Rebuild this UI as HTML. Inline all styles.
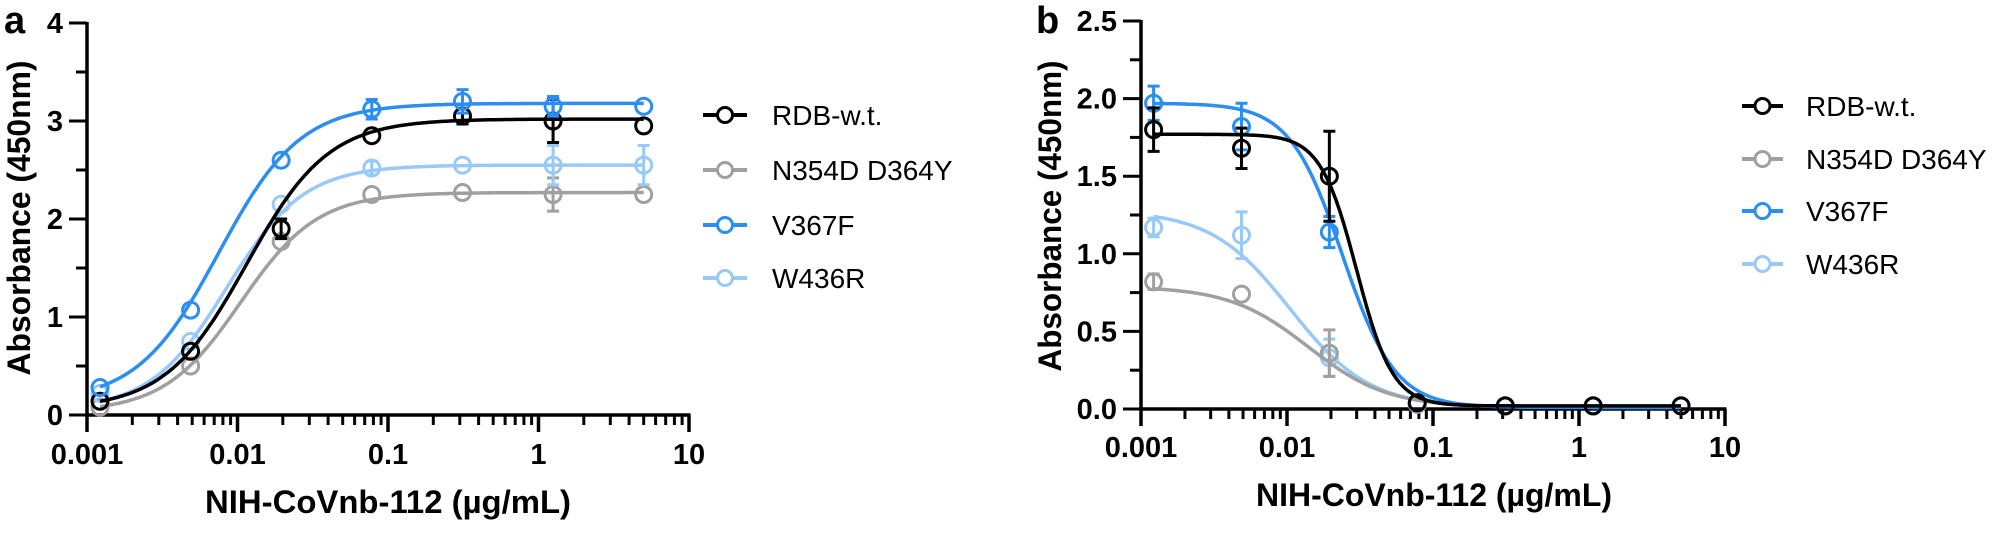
<!DOCTYPE html>
<html><head><meta charset="utf-8"><style>
html,body{margin:0;padding:0;background:#fff;}
svg{display:block;font-family:"Liberation Sans",sans-serif;}
</style></head><body>
<svg id="s" width="2013" height="536" viewBox="0 0 2013 536" xmlns="http://www.w3.org/2000/svg">
<text x="4" y="33" font-size="38" font-weight="bold">a</text>
<text x="1036" y="33" font-size="38" font-weight="bold">b</text>
<text transform="translate(30,218) rotate(-90)" text-anchor="middle" font-size="32" font-weight="bold" textLength="315" lengthAdjust="spacingAndGlyphs">Absorbance (450nm)</text>
<text transform="translate(1061,216) rotate(-90)" text-anchor="middle" font-size="32" font-weight="bold" textLength="311" lengthAdjust="spacingAndGlyphs">Absorbance (450nm)</text>
<text x="388" y="513" text-anchor="middle" font-size="32" font-weight="bold" textLength="366" lengthAdjust="spacingAndGlyphs">NIH-CoVnb-112 (µg/mL)</text>
<text x="1434" y="506" text-anchor="middle" font-size="32" font-weight="bold" textLength="356" lengthAdjust="spacingAndGlyphs">NIH-CoVnb-112 (µg/mL)</text>
<g id="g"></g>
</svg>
<script>
var g=document.getElementById('g'),h='';
var C={k:'#000000',g:'#a0a0a0',b:'#2b8ef0',l:'#99c9f7'};
var X=[0.00122,0.00488,0.0195,0.078,0.3125,1.25,5];
function panel(P){
 function px(v){return P.x0+P.dec*(Math.log10(v)+3);}
 function py(v){return P.y0-v*P.u;}
 // axes
 h+='<line x1="'+P.x0+'" y1="'+(py(P.ymax)-1)+'" x2="'+P.x0+'" y2="'+(P.y0+1.5)+'" stroke="#000" stroke-width="3.5"/>';
 h+='<line x1="'+(P.x0-1.5)+'" y1="'+P.y0+'" x2="'+(P.x0+4*P.dec+1.5)+'" y2="'+P.y0+'" stroke="#000" stroke-width="3.5"/>';
 for(var i=0;i<=P.ymax/P.minor+1e-9;i++){var v=i*P.minor,maj=Math.abs(v/P.major-Math.round(v/P.major))<1e-6;
  h+='<line x1="'+(P.x0-(maj?18:11))+'" y1="'+py(v)+'" x2="'+P.x0+'" y2="'+py(v)+'" stroke="#000" stroke-width="3"/>';
  if(maj)h+='<text x="'+(P.x0-24)+'" y="'+(py(v)+10)+'" text-anchor="end" font-size="29" font-weight="bold">'+(P.fmt?v.toFixed(1):v)+'</text>';}
 var labs=['0.001','0.01','0.1','1','10'];
 for(var d=0;d<=4;d++){var xx=P.x0+d*P.dec;
  h+='<line x1="'+xx+'" y1="'+P.y0+'" x2="'+xx+'" y2="'+(P.y0+17)+'" stroke="#000" stroke-width="3.5"/>';
  h+='<text x="'+xx+'" y="'+P.ly+'" text-anchor="middle" font-size="29" font-weight="bold">'+labs[d]+'</text>';
  if(d<4)for(var m=2;m<=9;m++){var mx=xx+P.dec*Math.log10(m);h+='<line x1="'+mx+'" y1="'+P.y0+'" x2="'+mx+'" y2="'+(P.y0+10)+'" stroke="#000" stroke-width="3"/>';}}
 P.s.forEach(function(S){
  var d='';for(var t=0;t<=300;t++){var lx=Math.log10(X[0])+t/300*(Math.log10(X[6])-Math.log10(X[0]));var x=Math.pow(10,lx);
   var y=S.bot+(S.top-S.bot)/(1+Math.pow(10,(Math.log10(S.ec)-lx)*S.hill*P.dir));
   d+=(t?'L':'M')+px(x).toFixed(1)+' '+py(y).toFixed(1);}
  h+='<path d="'+d+'" fill="none" stroke="'+C[S.c]+'" stroke-width="3.5"/>';
  S.pts.forEach(function(v,i){var cx=px(X[i]),cy=py(v),e=S.err[i]||0;
   if(e){h+='<path d="M'+cx+' '+(cy-e*P.u)+'V'+(cy+e*P.u)+'M'+(cx-6)+' '+(cy-e*P.u)+'H'+(cx+6)+'M'+(cx-6)+' '+(cy+e*P.u)+'H'+(cx+6)+'" stroke="'+C[S.c]+'" stroke-width="3" fill="none"/>';}
   h+='<circle cx="'+cx+'" cy="'+cy+'" r="8" fill="none" stroke="'+C[S.c]+'" stroke-width="3"/>';});
 });
 var names=['RDB-w.t.','N354D D364Y','V367F','W436R'],cs=['k','g','b','l'];
 for(var i=0;i<4;i++){var y=P.leg.y[i];
  h+='<line x1="'+P.leg.x1+'" y1="'+y+'" x2="'+P.leg.x2+'" y2="'+y+'" stroke="'+C[cs[i]]+'" stroke-width="4"/>';
  h+='<circle cx="'+((P.leg.x1+P.leg.x2)/2)+'" cy="'+y+'" r="7.5" fill="#fff" stroke="'+C[cs[i]]+'" stroke-width="3"/>';
  h+='<text x="'+P.leg.tx+'" y="'+(y+10)+'" font-size="28">'+names[i]+'</text>';}
}
panel({x0:87,dec:150.5,y0:415,u:98,ymax:4,major:1,minor:0.5,ly:464,dir:1,
 leg:{x1:703,x2:747,tx:772,y:[115,170,225,278]},
 s:[
 {c:'g',top:2.27,bot:0.03,ec:0.0105,hill:1.7,pts:[0.08,0.5,1.77,2.25,2.27,2.25,2.25],err:{5:0.17}},
 {c:'l',top:2.55,bot:0.05,ec:0.0085,hill:1.7,pts:[0.22,0.75,2.15,2.52,2.55,2.55,2.55],err:{3:0.07,5:0.2,6:0.2}},
 {c:'k',top:3.02,bot:0.06,ec:0.0115,hill:1.6,pts:[0.14,0.65,1.9,2.85,3.05,3.0,2.95],err:{2:0.1,4:0.08,5:0.22}},
 {c:'b',top:3.18,bot:0.13,ec:0.0075,hill:1.6,pts:[0.28,1.07,2.6,3.12,3.2,3.15,3.15],err:{3:0.1,4:0.12,5:0.1}}
 ]});
panel({x0:1141,dec:146,y0:409,u:155.2,ymax:2.5,major:0.5,minor:0.25,ly:457,dir:-1,fmt:1,
 leg:{x1:1742,x2:1783,tx:1806,y:[106,159,211,264]},
 s:[
 {c:'l',top:1.28,bot:0.01,ec:0.0105,hill:1.6,pts:[1.17,1.12,0.33,0.03,0.02,0.02,0.02],err:{0:0.06,1:0.15,2:0.12}},
 {c:'g',top:0.79,bot:0.01,ec:0.014,hill:1.6,pts:[0.82,0.74,0.36,0.03,0.02,0.02,0.02],err:{0:0.05,2:0.15}},
 {c:'b',top:1.97,bot:0.01,ec:0.024,hill:2.4,pts:[1.97,1.82,1.14,0.04,0.02,0.02,0.02],err:{0:0.11,1:0.15,2:0.1}},
 {c:'k',top:1.77,bot:0.02,ec:0.03,hill:3.5,pts:[1.8,1.68,1.5,0.04,0.02,0.02,0.02],err:{0:0.14,1:0.13,2:0.29}}
 ]});
g.innerHTML=h;
</script>
</body></html>
